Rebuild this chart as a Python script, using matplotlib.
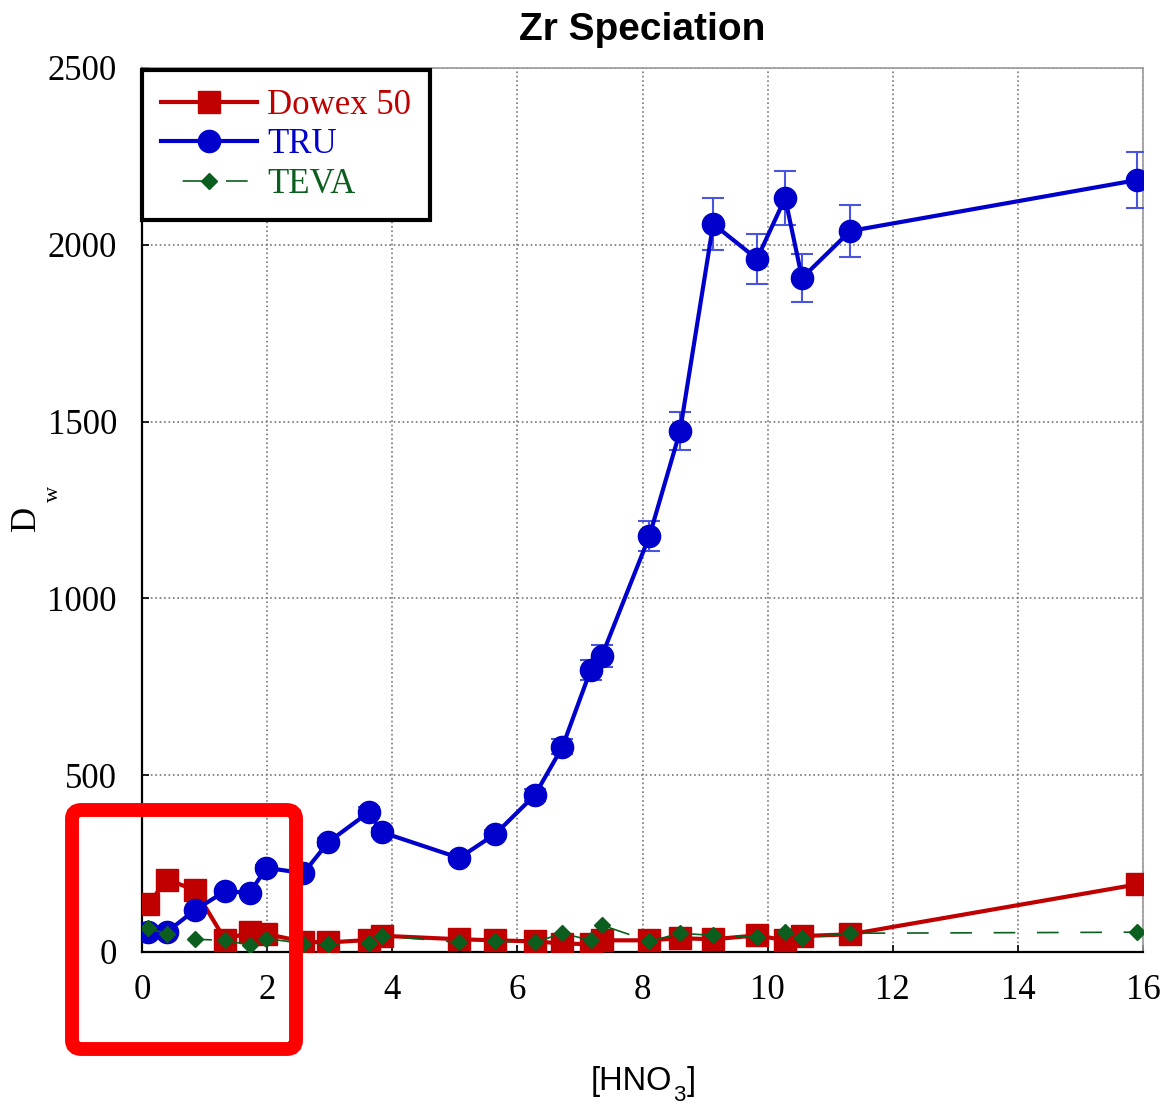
import matplotlib
matplotlib.use("Agg")
import matplotlib.pyplot as plt
from matplotlib.patches import FancyBboxPatch

# ---- data ----
hno3 = [0.10, 0.40, 0.85, 1.33, 1.72, 1.99, 2.58, 2.98, 3.63, 3.83, 5.07, 5.65,
        6.28, 6.72, 7.17, 7.35, 8.11, 8.60, 9.13, 9.83, 10.28, 10.55, 11.32, 15.90]
dowex = [135, 205, 175, 34, 57, 51, 29, 27, 34, 46, 36, 33,
         30, 24, 22, 33, 33, 39, 36, 47, 33, 45, 50, 191]
tru = [57, 57, 119, 172, 167, 238, 223, 311, 396, 339, 266, 334,
       444, 580, 797, 837, 1176, 1473, 2059, 1960, 2132, 1906, 2039, 2183]
tru_err = [2, 2, 4, 6, 6, 9, 8, 11, 14, 12, 10, 12,
           16, 21, 29, 30, 42, 53, 74, 71, 77, 69, 73, 79]
teva = [67, 51, 36, 33, 20, 38, 24, 22, 25, 46, 27, 31,
        27, 53, 33, 76, 30, 53, 47, 42, 56, 39, 53, 56]
x_ticks = [0, 2, 4, 6, 8, 10, 12, 14, 16]
y_ticks = [0, 500, 1000, 1500, 2000, 2500]

W, H = 1163, 1104
fig = plt.figure(figsize=(W / 100, H / 100), dpi=100)
ax = fig.add_axes([142/W, 1 - 952/H, (1143-142)/W, (952-68)/H])

red = '#C00000'
blue = '#0000CC'
green = '#0B5E1E'

ax.plot(hno3, dowex, color=red, lw=3, marker='s', ms=16.5, mec=red, mfc=red,
        label='Dowex 50', zorder=3)
ax.errorbar(hno3, tru, yerr=tru_err, fmt='none', ecolor='#4A55DD', elinewidth=1.5,
            capsize=8, capthick=1.5, zorder=3.5)
ax.plot(hno3, tru, color=blue, lw=3, marker='o', ms=16, mec=blue, mfc=blue,
        label='TRU', zorder=4)
ax.plot(hno3, teva, color=green, lw=1.2, ls=(0, (13, 13)), marker='D', ms=8,
        mec=green, mfc=green, label='TEVA', zorder=5)

ax.set_xlim(0, 16)
ax.set_ylim(0, 2500)
ax.set_xticks(x_ticks)
ax.set_yticks(y_ticks)
ax.grid(True, color='#777777', ls=':', lw=1.2)
ax.set_axisbelow(True)
ax.tick_params(direction='in', length=5, width=1.2, top=False, right=False,
               labelsize=25)
ax.tick_params(axis='y', pad=18)
ax.tick_params(axis='x', pad=16)
for lab in ax.get_xticklabels() + ax.get_yticklabels():
    lab.set_fontfamily('Liberation Serif')
for s in ['left', 'bottom']:
    ax.spines[s].set_linewidth(1.6)
    ax.spines[s].set_color('black')
for s in ['top', 'right']:
    ax.spines[s].set_linewidth(1.2)
    ax.spines[s].set_color('#999999')

ax.set_title('Zr Speciation', fontfamily='Liberation Sans', fontweight='bold',
             fontsize=28, pad=20)

# y label: D with subscript w
fig.text(26/W, 1 - 518/H, 'D', rotation=90, ha='center', va='center',
         fontfamily='Liberation Serif', fontsize=25)
fig.text(53/W, 1 - 494/H, 'w', rotation=90, ha='center', va='center',
         fontfamily='Liberation Serif', fontsize=16)

# x label: [HNO3] with lowered subscript
t1 = fig.text(591/W, 1 - 1090/H, '[HNO', ha='left', va='baseline',
              fontfamily='Liberation Sans', fontsize=23.5)
fig.canvas.draw()
r = fig.canvas.get_renderer()
x1 = t1.get_window_extent(r).x1
t2 = fig.text((x1 + 1)/W, 1 - 1101/H, '3', ha='left', va='baseline',
              fontfamily='Liberation Sans', fontsize=16)
x2 = t2.get_window_extent(r).x1
fig.text((x2 + 1)/W, 1 - 1090/H, ']', ha='left', va='baseline',
         fontfamily='Liberation Sans', fontsize=23.5)

leg = ax.legend(loc='upper left', bbox_to_anchor=(0.0, 0.998),
                prop={'family': 'Liberation Serif', 'size': 25},
                frameon=True, fancybox=False, edgecolor='black', framealpha=1,
                handlelength=2.75, labelspacing=0.19, borderpad=0.55,
                handletextpad=0.3, borderaxespad=0.0)
leg.get_frame().set_linewidth(3)
for txt, c in zip(leg.get_texts(), [red, blue, green]):
    txt.set_color(c)
leg.get_lines()[2].set_linestyle((13, (13, 13)))

# red highlight box (annotation overlay)
box = FancyBboxPatch((72/W, 55/H), (296-72)/W, (294-55)/H,
                     boxstyle='round,pad=0,rounding_size=0.008',
                     transform=fig.transFigure, fill=False, edgecolor='#FF0000',
                     lw=10, zorder=10)
fig.patches.append(box)

fig.savefig('out.png', dpi=100)
